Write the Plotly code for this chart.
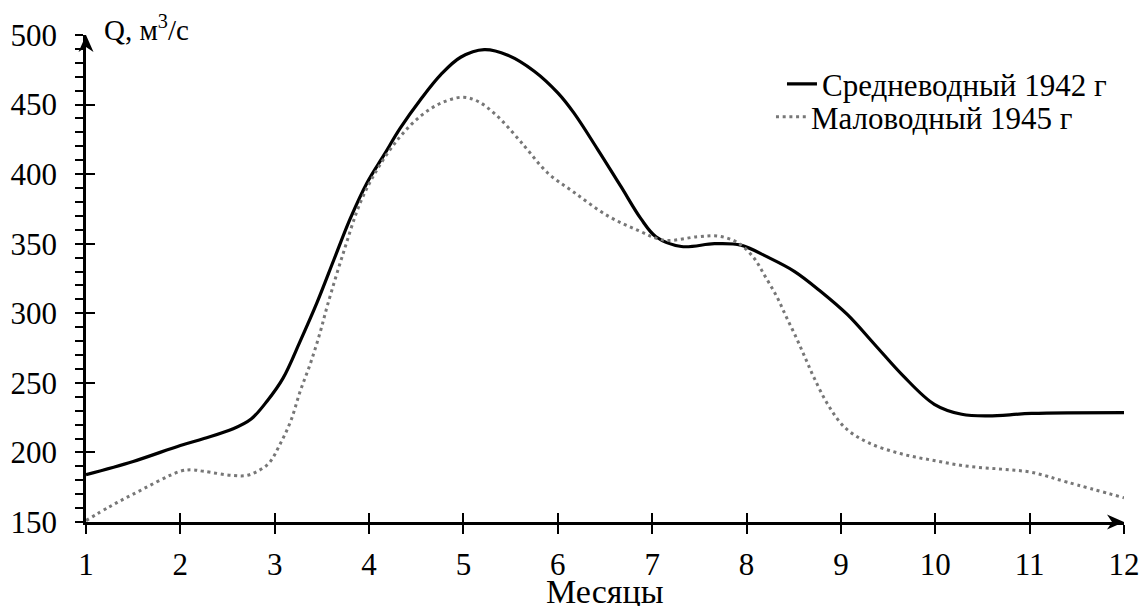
import plotly.graph_objects as go

# Monthly discharge readings, Q (m^3/s)
months_1942 = [1, 1.5, 2, 2.25, 2.56, 2.75, 2.92, 3.09, 3.27, 3.45, 3.63, 3.8, 3.98, 4.16, 4.33,
               4.55, 4.76, 4.97, 5.22, 5.47, 5.75, 6, 6.17, 6.42, 6.67, 6.88, 7.04, 7.31, 7.66,
               7.94, 8.22, 8.51, 8.79, 9.07, 9.36, 9.66, 9.99, 10.28, 10.56, 11.02, 12]
q_1942 = [184, 193.5, 205, 210, 217, 224, 237, 253.6, 280, 308, 339, 368, 394, 414, 433,
          454, 471.5, 484, 489.5, 485.5, 474, 458.4, 444, 418, 391, 368, 355, 348, 350,
          349, 340.5, 330, 315.5, 299, 277.4, 255, 234.6, 227.4, 226.2, 228, 228.6]

months_1945 = [1, 1.25, 1.5, 2, 2.12, 2.25, 2.56, 2.7, 2.81, 2.94, 3.06, 3.17, 3.27, 3.38, 3.48,
               3.56, 3.73, 3.91, 4.1, 4.33, 4.55, 4.76, 4.99, 5.15, 5.34, 5.57, 5.68, 5.89,
               6.17, 6.53, 6.85, 7.13, 7.48, 7.7, 7.9, 8.07, 8.19, 8.32, 8.42, 8.53, 8.63,
               8.72, 8.86, 9.04, 9.29, 9.64, 10, 10.35, 10.7, 11.02, 11.4, 12]
q_1945 = [151, 161, 170, 186.5, 187.5, 186.4, 183.4, 183.4, 186.2, 192.4, 206.4, 222.6, 244,
          264.3, 286, 306, 344, 380, 405, 427, 442, 451, 455.3, 452.4, 442.9, 426.2, 417.4,
          401, 387, 370, 359.6, 352.5, 355, 355.5, 351, 340.5, 327.4, 312, 297.6, 282, 266.7,
          253, 234.6, 218, 207, 199, 194, 190, 188, 185.7, 178.6, 167.4]

name_1942 = "Средневодный 1942 г"
name_1945 = "Маловодный 1945 г"
x_title = "Месяцы"
y_title = "Q, м<sup>3</sup>/с"

month_ticks = list(range(1, 13))
q_major = list(range(150, 501, 50))
q_minor = list(range(150, 501, 10))
q_minor_text = [str(v) if v % 50 == 0 else "" for v in q_minor]

FONT = "Liberation Serif"
TICK_SIZE = 31
LEGEND_SIZE = 31

fig = go.Figure()
fig.add_trace(go.Scatter(
    x=months_1942, y=q_1942, name=name_1942, mode="lines", legend="legend",
    line=dict(color="black", width=3.2, shape="spline", smoothing=1.0),
))
# second series sits on a twin pair of axes (same ranges) that carry the inner tick halves
fig.add_trace(go.Scatter(
    x=months_1945, y=q_1945, name=name_1945, mode="lines", legend="legend2",
    xaxis="x2", yaxis="y2",
    line=dict(color="#777777", width=3, dash="3px,3.7px", shape="spline", smoothing=1.0),
))

axis_common = dict(showgrid=False, zeroline=False, automargin=False)
x_range = [1, 12]
y_range = [150, 500]
legend_common = dict(xanchor="left", yanchor="middle", bgcolor="rgba(0,0,0,0)",
                     font=dict(family=FONT, size=LEGEND_SIZE))

fig.update_layout(
    width=1142, height=606,
    margin=dict(l=86, r=18, t=35, b=84),
    paper_bgcolor="white", plot_bgcolor="white",
    font=dict(family=FONT, size=TICK_SIZE, color="black"),
    showlegend=True,
    legend=dict(x=0.6705, y=0.899, **legend_common),
    legend2=dict(x=0.6599, y=0.8316, **legend_common),
    xaxis=dict(range=x_range, tickvals=month_ticks, ticks="outside", ticklen=9,
               tickwidth=2, tickcolor="black", showline=True, linewidth=2.6, linecolor="black",
               tickfont=dict(size=TICK_SIZE), ticklabelstandoff=4, **axis_common),
    yaxis=dict(range=y_range, tickvals=q_minor, ticktext=q_minor_text, ticks="outside",
               ticklen=8, tickwidth=2, tickcolor="black", showline=True, linewidth=2.6,
               linecolor="black", tickfont=dict(size=TICK_SIZE), ticklabelstandoff=12,
               **axis_common),
    xaxis2=dict(overlaying="x", anchor="y2", side="bottom", range=x_range, tickvals=month_ticks,
                ticks="inside", ticklen=9, tickwidth=2, tickcolor="black",
                showticklabels=False, showline=False, **axis_common),
    yaxis2=dict(overlaying="y", anchor="x2", side="left", range=y_range, tickvals=q_major,
                ticks="inside", ticklen=9, tickwidth=2, tickcolor="black",
                showticklabels=False, showline=False, **axis_common),
)

# Arrow heads at the ends of both axes (pixel-sized, anchored at the plot-area corners)
arrow_common = dict(type="path", xref="paper", yref="paper", xsizemode="pixel",
                    ysizemode="pixel", fillcolor="black", line=dict(width=0), layer="above")
fig.add_shape(xanchor=1, yanchor=0, path="M0,0 L-17,7.5 L-12,0 L-17,-7.5 Z", **arrow_common)
fig.add_shape(xanchor=0, yanchor=1, path="M0,0 L7.5,-17 L0,-12 L-7.5,-17 Z", **arrow_common)

# Axis captions
fig.add_annotation(x=0, y=1, xref="paper", yref="paper", xanchor="left", yanchor="middle",
                   xshift=16, yshift=7, showarrow=False,
                   text=y_title, font=dict(family=FONT, size=29))
fig.add_annotation(x=0.5, y=0, xref="paper", yref="paper", xanchor="center", yanchor="middle",
                   yshift=-69, showarrow=False,
                   text=x_title, font=dict(family=FONT, size=34))

fig.write_html("out.html")
